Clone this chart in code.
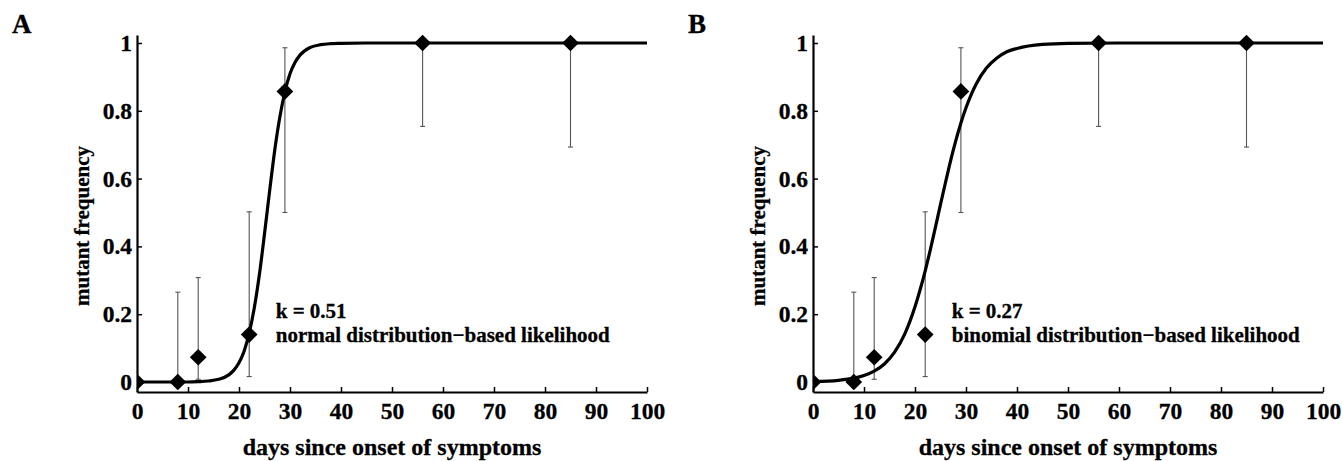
<!DOCTYPE html>
<html>
<head>
<meta charset="utf-8">
<script src="https://cdn.jsdelivr.net/npm/d3@7"></script>
<style>
  body { margin: 0; background: #fff; }
  text { font-family: "Liberation Serif", "Times New Roman", serif; font-weight: bold; fill: #000; }
</style>
</head>
<body>
<div id="container"></div>
<script>
// observed mutant frequencies
const days = [0, 8, 12, 22, 29, 56, 85];
const freq = [0, 0, 0.073, 0.14, 0.857, 1, 1];
const errLow = [0, 0, 0.008, 0.016, 0.5, 0.754, 0.693];
const errHigh = [0, 0.265, 0.308, 0.502, 0.986, 1, 1];

// fitted curves
const fitDays = [0, 5, 10, 12, 14, 16, 18, 19, 20, 21, 22, 23, 24, 25, 26, 27, 28, 29, 30, 31, 32, 34, 36, 38, 40, 45, 50, 60, 100];
const fitNormal = [0, 0, 0, 0.001, 0.003, 0.008, 0.021, 0.035, 0.057, 0.091, 0.144, 0.219, 0.317, 0.437, 0.563, 0.683, 0.781, 0.856, 0.909, 0.943, 0.965, 0.987, 0.995, 0.998, 0.999, 1, 1, 1, 1];
const fitBinomial = [0.001, 0.005, 0.019, 0.032, 0.053, 0.088, 0.142, 0.179, 0.222, 0.272, 0.328, 0.39, 0.456, 0.524, 0.59, 0.654, 0.712, 0.764, 0.809, 0.847, 0.879, 0.926, 0.955, 0.974, 0.984, 0.996, 0.999, 1, 1];

const xTicks = [0, 10, 20, 30, 40, 50, 60, 70, 80, 90, 100];
const yTicks = [0, 0.2, 0.4, 0.6, 0.8, 1];
const yTickLabels = ["0", "0.2", "0.4", "0.6", "0.8", "1"];

const panelLetters = ["A", "B"];
const kLabels = ["k = 0.51", "k = 0.27"];
const likelihoodLabels = ["normal distribution\u2212based likelihood", "binomial distribution\u2212based likelihood"];
const fits = [fitNormal, fitBinomial];

const w = 1343;
const h = 461;

const svg = d3.
select("#container").
append("svg").
attr("width", w).
attr("height", h);

svg.append("rect").attr("width", w).attr("height", h).attr("fill", "#fff");

// left edge of each panel's plot area
const panelX = [137, 813];

function drawPanel(i) {
  const x0 = panelX[i];

  const xScale = d3.
  scaleLinear().
  domain([0, 100]).
  range([x0, x0 + 510]);

  const yScale = d3.
  scaleLinear().
  domain([-0.0295, 1.0236]).
  range([392, 35]);

  const g = svg.append("g");

  // clip at x = 0 (left half of the first diamond is hidden)
  g.append("clipPath").
  attr("id", "clip" + i).
  append("rect").
  attr("x", xScale(0)).
  attr("y", 0).
  attr("width", xScale(100) - xScale(0) + 12).
  attr("height", h);

  const xAxis = d3.
  axisBottom(xScale).
  tickValues(xTicks).
  tickSizeInner(-5).
  tickSizeOuter(0).
  tickPadding(10);

  const yAxis = d3.
  axisLeft(yScale).
  tickValues(yTicks).
  tickFormat((d, j) => yTickLabels[j]).
  tickSizeInner(-5).
  tickSizeOuter(0).
  tickPadding(5);

  const gx = g.
  append("g").
  attr("transform", `translate(0, ${yScale.range()[0]})`).
  call(xAxis);

  const gy = g.
  append("g").
  attr("transform", `translate(${x0}, 0)`).
  call(yAxis);

  [gx, gy].forEach(a => {
    a.select(".domain").attr("stroke", "#000").attr("stroke-width", 2.2);
    a.selectAll(".tick line").attr("stroke", "#000").attr("stroke-width", 1.5);
    a.selectAll(".tick text").
    attr("font-family", "'Liberation Serif', 'Times New Roman', serif").
    attr("font-weight", "bold").
    attr("font-size", 23.5).
    attr("fill", "#000").
    attr("stroke", "#000").
    attr("stroke-width", 0.3);
  });

  const plot = g.append("g").attr("clip-path", `url(#clip${i})`);

  // error bars
  const bars = plot.
  selectAll(".err").
  data(days).
  enter().
  append("g").
  attr("class", "err").
  attr("stroke", "#555").
  attr("stroke-width", 1.1);

  bars.append("line").
  attr("x1", d => xScale(d)).
  attr("x2", d => xScale(d)).
  attr("y1", (d, j) => yScale(errLow[j])).
  attr("y2", (d, j) => yScale(errHigh[j]));

  bars.append("line").
  attr("x1", d => xScale(d) - 2.5).
  attr("x2", d => xScale(d) + 2.5).
  attr("y1", (d, j) => yScale(errLow[j])).
  attr("y2", (d, j) => yScale(errLow[j]));

  bars.append("line").
  attr("x1", d => xScale(d) - 2.5).
  attr("x2", d => xScale(d) + 2.5).
  attr("y1", (d, j) => yScale(errHigh[j])).
  attr("y2", (d, j) => yScale(errHigh[j]));

  // fitted logistic curve
  const line = d3.
  line().
  x(d => xScale(d[0])).
  y(d => yScale(d[1])).
  curve(d3.curveMonotoneX);

  plot.append("path").
  datum(fitDays.map((d, j) => [d, fits[i][j]])).
  attr("d", line).
  attr("fill", "none").
  attr("stroke", "#000").
  attr("stroke-width", 3.2);

  // diamonds
  plot.
  selectAll(".pt").
  data(days).
  enter().
  append("path").
  attr("class", "pt").
  attr("d", d3.symbol(d3.symbolSquare, 140)).
  attr("transform", (d, j) => `translate(${xScale(d)}, ${yScale(freq[j])}) rotate(45)`).
  attr("fill", "#000");

  // annotation
  const note = g.append("text").
  attr("x", xScale(27.2)).
  attr("y", yScale(0.19)).
  attr("font-size", 21).
  attr("stroke", "#000").
  attr("stroke-width", 0.3);
  note.append("tspan").text(kLabels[i]);
  note.append("tspan").
  attr("x", xScale(27.2)).
  attr("dy", 24.7).
  text(likelihoodLabels[i]);

  // axis titles
  g.append("text").
  attr("x", xScale(50)).
  attr("y", 455).
  attr("text-anchor", "middle").
  attr("font-size", 24).
  attr("stroke", "#000").
  attr("stroke-width", 0.3).
  text("days since onset of symptoms");

  g.append("text").
  attr("transform", `translate(${x0 - 48}, 226) rotate(-90)`).
  attr("text-anchor", "middle").
  attr("font-size", 21).
  attr("stroke", "#000").
  attr("stroke-width", 0.3).
  text("mutant frequency");

  // panel letter
  g.append("text").
  attr("x", x0 - 125).
  attr("y", 33).
  attr("font-size", 27).
  attr("stroke", "#000").
  attr("stroke-width", 0.3).
  text(panelLetters[i]);
}

drawPanel(0);
drawPanel(1);
</script>
</body>
</html>
